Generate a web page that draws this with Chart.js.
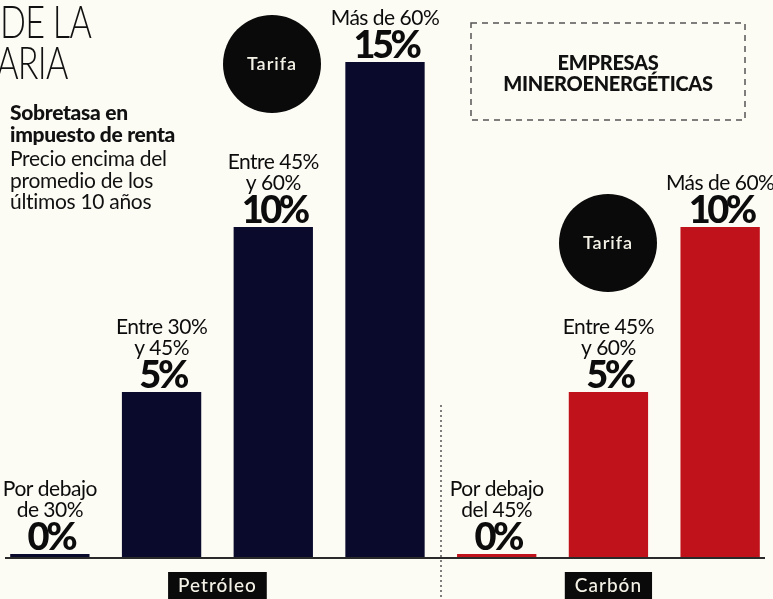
<!DOCTYPE html>
<html>
<head>
<meta charset="utf-8">
<script src="https://cdn.jsdelivr.net/npm/chart.js@4"></script>
<style>
  html, body { margin: 0; padding: 0; background: #fcfbf4; overflow: hidden; }
  #wrap { position: relative; width: 773px; height: 599px; overflow: hidden; }
  #grafico { position: absolute; left: -6px; top: 0; }
</style>
</head>
<body>
<div id="wrap"><canvas id="grafico" width="782" height="599"></canvas></div>
<script>
// rangos de precio (cada línea del rótulo)
const rangos = [
    ['Por debajo', 'de 30%'],
    ['Entre 30%', 'y 45%'],
    ['Entre 45%', 'y 60%'],
    ['Más de 60%'],
    ['Por debajo', 'del 45%'],
    ['Entre 45%', 'y 60%'],
    ['Más de 60%']
];
const petroleo = [0, 5, 10, 15];
const carbon = [0, 5, 10];
const grupos = ['Petróleo', 'Carbón'];

const categorias = rangos.map(r => r.join(' '));
const datosPetroleo = petroleo.concat(carbon.map(() => null));
const datosCarbon = petroleo.map(() => null).concat(carbon);

const fondo = '#fcfbf4';
const azul = '#0a0a2c';
const rojo = '#c0121a';
const DX = 6; // el canvas empieza 6px a la izquierda de la pagina

const rotulos = {
    id: 'rotulos',
    beforeDraw(chart) {
        const c = chart.ctx;
        c.save();
        c.fillStyle = fondo;
        c.fillRect(0, 0, chart.width, chart.height);
        c.restore();
    },
    afterDatasetsDraw(chart) {
        const c = chart.ctx;
        const y0 = chart.scales.y.getPixelForValue(0);

        // valores y rangos sobre cada barra (coordenadas del canvas)
        c.save();
        const xs = [];
        chart.data.datasets.forEach((ds, di) => {
            const meta = chart.getDatasetMeta(di);
            const grupo = [];
            meta.data.forEach((el, i) => {
                const v = ds.data[i];
                if (v === null) return;
                grupo.push(el.x);
                const top = el.y;
                c.fillStyle = '#0c0c0c';
                c.textAlign = 'center';
                c.font = '900 38px Lato';
                c.letterSpacing = '-3.5px';
                c.fillText(v + '%', el.x + 1, top - 4);
                c.letterSpacing = '-0.5px';
                c.font = '400 21px Lato';
                rangos[i].slice().reverse().forEach((t, k) => {
                    c.fillText(t, el.x, top - 37 - k * 21);
                });
                c.letterSpacing = '0px';
            });
            xs.push(grupo.reduce((a, b) => a + b, 0) / grupo.length);
        });

        // etiquetas de grupo
        c.font = '500 19px Lato';
        c.letterSpacing = '1px';
        grupos.forEach((g, k) => {
            const w = c.measureText(g).width + 20;
            c.fillStyle = '#0a0a0a';
            c.fillRect(xs[k] - w / 2, 572, w, 27);
            c.fillStyle = '#f4f1e6';
            c.textAlign = 'center';
            c.fillText(g, xs[k], 592);
        });
        c.letterSpacing = '0px';
        c.restore();

        // adornos fijos (coordenadas de la pagina)
        c.save();
        c.translate(DX, 0);

        // linea base
        c.strokeStyle = '#2a2a2a';
        c.lineWidth = 2;
        c.beginPath();
        c.moveTo(5, y0 + 1);
        c.lineTo(765, y0 + 1);
        c.stroke();

        // separador punteado
        c.strokeStyle = '#555';
        c.lineWidth = 1.5;
        c.setLineDash([2, 3]);
        c.beginPath();
        c.moveTo(441, 405);
        c.lineTo(441, 599);
        c.stroke();

        // recuadro
        c.setLineDash([6, 5]);
        c.strokeRect(471, 23, 274, 97);
        c.setLineDash([]);

        c.fillStyle = '#111';
        c.textAlign = 'center';
        c.font = '900 20px Lato';
        c.letterSpacing = '-0.3px';
        c.fillText('EMPRESAS', 608, 70);
        c.fillText('MINEROENERGÉTICAS', 608, 91);

        // titulo cortado (letra estrecha)
        c.save();
        c.scale(0.76, 1);
        c.textAlign = 'left';
        c.font = '300 45px Lato';
        c.letterSpacing = '-1px';
        c.fillText('DE LA', 0, 38);
        c.fillText('ARIA', -5, 79);
        c.restore();

        c.textAlign = 'left';
        c.letterSpacing = '-0.3px';
        c.font = '900 21px Lato';
        c.fillText('Sobretasa en', 10, 120);
        c.fillText('impuesto de renta', 10, 142);
        c.font = '400 21px Lato';
        c.fillText('Precio encima del', 10, 166);
        c.fillText('promedio de los', 10, 188);
        c.fillText('últimos 10 años', 10, 209);
        c.letterSpacing = '0px';

        // circulos Tarifa
        [[272, 64], [608, 243]].forEach(([cx, cy]) => {
            c.fillStyle = '#0a0a0a';
            c.beginPath();
            c.arc(cx, cy, 49, 0, Math.PI * 2);
            c.fill();
            c.fillStyle = '#f4f1e6';
            c.textAlign = 'center';
            c.font = '600 18px Lato';
            c.letterSpacing = '1px';
            c.fillText('Tarifa', cx, cy + 6);
            c.letterSpacing = '0px';
        });
        c.restore();
    }
};

const grafico = new Chart(document.getElementById('grafico').getContext('2d'), {
    type: 'bar',
    data: {
        labels: categorias,
        datasets: [{
            label: grupos[0],
            data: datosPetroleo,
            backgroundColor: azul,
            minBarLength: 3
        }, {
            label: grupos[1],
            data: datosCarbon,
            backgroundColor: rojo,
            minBarLength: 3
        }]
    },
    options: {
        responsive: false,
        animation: false,
        layout: {
            padding: { left: 0, right: 0, top: 62, bottom: 42 }
        },
        datasets: {
            bar: { categoryPercentage: 1, barPercentage: 0.71, skipNull: true }
        },
        scales: {
            x: { display: false, stacked: true },
            y: { display: false, stacked: true, min: 0, max: 15 }
        },
        plugins: {
            legend: { display: false },
            tooltip: { enabled: false }
        }
    },
    plugins: [rotulos]
});
</script>
</body>
</html>
